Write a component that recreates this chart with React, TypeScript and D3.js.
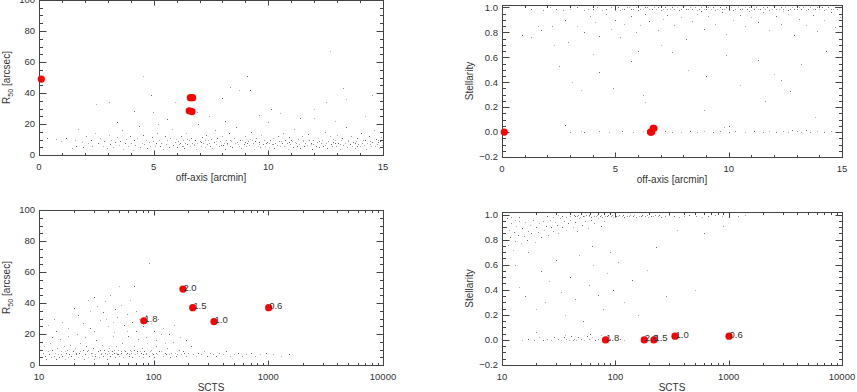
import React from "react";
import * as d3 from "d3";

// axis ticks
const offAxisTicks = [0, 5, 10, 15];
const r50Ticks = [0, 20, 40, 60, 80, 100];
const stellTicks = [-0.2, 0, 0.2, 0.4, 0.6, 0.8, 1.0];
const sctsTicks = [10, 100, 1000, 10000];

// highlighted sources (red)
const srcLabels = ["2.0", "1.5", "1.8", "1.0", "0.6"];
const srcOffAxis = [0.1, 6.6, 6.55, 6.67, 6.7];
const srcR50 = [49, 37, 28.5, 28, 37];
const srcScts = [180, 219, 82, 336, 1007];
const srcStell = [0.0, 0.0, 0.0, 0.03, 0.03];

// catalogue: off-axis vs R50
const offR50 = [
  [0.35,11],[0.72,10.5],[0.95,9],[1.18,11],[1.42,4.5],[1.55,9.5],[1.63,6],[1.71,17],[1.86,8.5],[1.93,5],[2.04,12],[2.12,7.5],[2.27,10],[2.33,5.5],[2.46,14],[2.58,8],[2.64,11],[2.77,6],[2.85,9],[2.96,4.5],
  [3.04,13],[3.08,7],[3.15,10],[3.22,5],[3.31,8.5],[3.38,11.5],[3.47,6.5],[3.52,9],[3.6,16],[3.66,4],[3.74,7.5],[3.81,10.5],[3.88,6],[3.95,12.5],[4.02,8],[4.09,3.5],[4.14,9.5],[4.2,6.5],[4.28,11],[4.35,19],[4.41,5],[4.47,8],[4.53,13],[4.6,7],[4.66,10],[4.71,4.5],[4.79,8.5],[4.86,6],[4.92,11.5],[4.98,9],[5.05,5.5],[5.1,7.5],[5.16,14.5],[5.23,10],[5.29,6],[5.34,8],[5.41,4],[5.48,12],[5.53,7],[5.6,9.5],[5.67,5],[5.72,11],[5.78,17],[5.85,6.5],[5.91,8.5],[5.97,10.5],
  [6.03,5],[6.08,9],[6.12,7],[6.18,12],[6.22,6],[6.27,10],[6.33,4.5],[6.38,8],[6.42,14],[6.47,7],[6.52,9.5],[6.58,5.5],[6.63,11],[6.69,8],[6.74,6.5],[6.8,10],[6.86,4],[6.9,7.5],[6.95,20],[7.01,9],[7.06,6],[7.12,11.5],[7.17,8],[7.22,5],[7.28,13],[7.33,7],[7.39,9.5],[7.44,6],[7.5,10.5],[7.55,4.5],[7.61,8.5],[7.66,16],[7.72,7],[7.77,11],[7.83,5.5],[7.88,9],[7.94,6.5],[7.99,12],[8.05,8],[8.1,4],[8.16,10],[8.21,7],[8.27,14],[8.32,6],[8.38,9],[8.43,5],[8.49,11],[8.54,7.5],[8.6,18],[8.65,8.5],[8.71,6],[8.76,10],[8.82,4.5],[8.87,9.5],[8.93,7],[8.98,12.5],[9.04,5.5],[9.09,8],[9.15,6.5],[9.2,10.5],[9.26,15],[9.31,7.5],[9.37,4],[9.42,9],[9.48,11],[9.53,6],[9.59,8.5],[9.64,5],[9.7,13],[9.75,7],[9.81,10],[9.86,6],[9.92,8],[9.97,21],
  [10.03,5],[10.08,9.5],[10.14,7],[10.19,11],[10.25,4.5],[10.3,8],[10.36,6.5],[10.41,12],[10.47,9],[10.52,5.5],[10.58,7.5],[10.63,14],[10.69,6],[10.74,10],[10.8,8],[10.85,4],[10.91,11.5],[10.96,7],[11.02,9],[11.07,5],[11.13,16.5],[11.18,8.5],[11.24,6],[11.29,10.5],[11.35,7],[11.4,4.5],[11.46,12],[11.51,9],[11.57,5.5],[11.62,8],[11.68,6.5],[11.73,13.5],[11.79,10],[11.84,7],[11.9,4],[11.95,9.5],[12.01,24],[12.06,6],[12.12,8.5],[12.17,11],[12.23,5],[12.28,7.5],[12.34,10],[12.39,6],[12.45,15],[12.5,8],[12.56,4.5],[12.61,9],[12.67,12],[12.72,7],[12.78,5.5],[12.83,10.5],[12.89,8],[12.94,6],[13.0,13],[13.05,7.5],[13.11,4],[13.16,9.5],[13.22,11],[13.27,6.5],[13.33,8],[13.38,18],[13.44,5],[13.49,10],[13.55,7],[13.6,12.5],[13.66,6],[13.71,8.5],[13.77,4.5],[13.82,9],[13.88,11],[13.93,7],[13.99,5.5],[14.04,14],[14.1,8],[14.15,6.5],[14.21,10],[14.26,4],[14.32,7.5],[14.37,12],[14.43,9],[14.48,5.5],[14.54,8.5],[14.59,16],[14.65,6],[14.7,10.5],[14.76,7],[14.81,4.5],[14.87,9],[14.92,11.5],[14.97,6.5],
  [6.15,8],[6.45,10.5],[6.77,7],[7.08,8.5],[7.41,7.5],[7.7,9],[8.02,6.5],[8.35,10],[8.66,7],[8.97,8.5],[9.29,9.5],[9.61,7],[9.94,8.5],[10.22,7],[10.55,9],[10.88,8.5],[11.21,7.5],[11.53,10],[11.86,8],[12.19,9],[12.48,6.5],[12.8,8.5],[13.13,7],[13.46,9],[13.79,8],[14.12,9.5],[14.45,7],[14.78,8.5],[6.3,6],[7.25,9.5],[8.18,8],[9.1,9],[10.05,7.5],[11.0,10],[11.95,7],[12.9,9.5],[13.85,6],[14.8,10],
  [4.55,51],[4.9,39],[3.07,34],[2.5,33],[4.14,28.5],[4.95,28],[5.93,34],[5.6,23],[7.4,25],[12.7,67],[9.06,51],[8.33,44],[8.7,42],[9.2,42],[13.24,43],[13.4,36],[7.97,37],[12.5,34],[12.0,30],[10.1,30],[14.5,39],[14.2,25],[3.4,21],[6.9,28],[10.5,27],[11.4,24],[9.6,26],[12.9,22],[8.1,22],[5.2,20]
];

// catalogue: off-axis vs stellarity
const offStell = [
  [1.3,0.99],[1.8,0.98],[2.1,1.0],[2.4,0.99],[2.7,0.98],[3.0,0.99],[3.3,1.0],[3.6,0.98],[3.8,0.99],[4.0,0.99],[4.2,1.0],[4.4,0.98],[4.6,0.99],[4.8,1.0],[5.0,0.99],[5.1,1.0],[5.2,0.98],[5.3,0.99],[5.4,0.99],[5.5,1.0],[5.6,1.0],[5.7,0.99],[5.8,0.99],[5.9,1.0],[6.0,0.98],[6.1,0.99],[6.2,0.99],[6.3,1.0],[6.4,1.0],[6.5,0.99],[6.6,0.99],[6.7,1.0],[6.8,0.99],[6.9,1.0],[7.0,0.98],[7.1,0.99],[7.2,1.0],[7.3,0.99],[7.4,0.99],[7.5,1.0],[7.6,0.99],[7.7,1.0],[7.8,0.98],[7.9,0.99],[8.0,1.0],[8.1,0.99],[8.2,0.99],[8.3,1.0],[8.4,0.99],[8.5,1.0],[8.6,0.98],[8.7,0.99],[8.8,1.0],[8.9,0.99],[9.0,0.99],[9.1,1.0],[9.2,0.99],[9.3,1.0],[9.4,0.98],[9.5,0.99],[9.6,1.0],[9.7,0.99],[9.8,0.99],[9.9,1.0],[10.0,0.99],[10.1,1.0],[10.2,0.98],[10.3,0.99],[10.4,1.0],[10.5,0.99],[10.6,0.99],[10.7,1.0],[10.8,0.99],[10.9,1.0],[11.0,0.98],[11.1,0.99],[11.2,1.0],[11.3,0.99],[11.4,0.99],[11.5,1.0],[11.6,0.99],[11.7,1.0],[11.8,0.98],[11.9,0.99],[12.0,1.0],[12.1,0.99],[12.2,0.99],[12.3,1.0],[12.4,0.99],[12.5,1.0],[12.6,0.98],[12.7,0.99],[12.8,1.0],[12.9,0.99],[13.0,0.99],[13.1,1.0],[13.2,0.99],[13.3,1.0],[13.4,0.98],[13.5,0.99],[13.6,1.0],[13.7,0.99],[13.8,0.99],[13.9,1.0],[14.0,0.99],[14.1,1.0],[14.2,0.98],[14.3,0.99],[14.4,1.0],[14.5,0.99],[14.6,0.99],[14.7,1.0],[14.8,0.99],[14.9,1.0],
  [0.9,0.78],[1.3,0.76],[1.6,0.85],[1.7,0.82],[2.2,0.85],[2.3,0.7],[2.8,0.9],[2.9,0.72],[3.3,0.85],[3.6,0.8],[3.9,0.93],[4.1,0.88],[4.3,0.77],[4.6,0.95],[4.8,0.83],[5.0,0.9],[5.2,0.76],[5.4,0.87],[5.7,0.93],[5.9,0.8],[6.1,0.86],[6.3,0.95],[6.9,0.82],[7.1,0.91],[7.3,0.94],[7.6,0.86],[7.9,0.92],[8.1,0.75],[8.4,0.89],[8.6,0.95],[8.9,0.83],[9.1,0.93],[9.4,0.87],[9.7,0.96],[9.9,0.79],[10.2,0.9],[10.5,0.94],[10.7,0.85],[11.0,0.92],[11.3,0.88],[11.5,0.96],[11.8,0.82],[12.1,0.93],[12.3,0.87],[12.6,0.95],[12.9,0.78],[13.1,0.91],[13.4,0.86],[13.7,0.94],[13.9,0.81],[14.2,0.9],[14.5,0.96],[14.7,0.84],[14.9,0.92],[6.5,0.89],[10.9,0.97],[12.4,0.97],[8.8,0.97],
  [2.5,0.53],[3.1,0.4],[4.3,0.48],[4.9,0.35],[4.0,0.63],[5.7,0.57],[6.2,0.3],[6.3,0.24],[6.0,0.65],[7.5,0.64],[8.2,0.5],[9.0,0.45],[9.9,0.62],[10.5,0.38],[11.3,0.58],[11.6,0.25],[12.0,0.47],[12.7,0.33],[13.2,0.55],[13.8,0.12],[14.3,0.65],[8.9,0.18],[7.0,0.7],[10.0,0.05],[12.3,0.42],[3.5,0.34],
  [2.8,0.06],[3.0,0.0],[3.5,0.01],[3.6,0.0],[4.3,0.01],[4.7,0.0],[5.3,0.01],[5.8,0.0],[6.2,0.01],[7.2,0.01],[7.5,0.0],[7.9,0.0],[8.3,0.01],[8.6,0.0],[8.9,0.01],[9.3,0.0],[9.6,0.01],[9.8,0.04],[10.0,0.0],[10.3,0.01],[10.7,0.0],[11.1,0.01],[11.5,0.0],[11.8,0.01],[12.1,0.0],[12.4,0.01],[12.6,0.0],[12.8,0.02],[13.0,0.01],[13.2,0.0],[13.4,0.02],[13.6,0.0],[13.9,0.01],[14.2,0.0],[14.5,0.01],[14.8,0.0]
];

// catalogue: SCTS vs R50
const sctsR50 = [
  [10.5,5],[10.8,8],[11,12],[11.3,6],[11.6,4],[11.9,9],[12.2,7],[12.5,14],[12.8,5],[13.1,10],[13.4,6],[13.7,8],[14,4],[14.3,11],[14.6,7],[15,5],[15.3,17],[15.7,9],[16,6],[16.4,12],[16.8,4],[17.2,8],[17.6,10],[18,5],[18.4,7],[18.8,13],[19.2,6],[19.7,9],[20.1,4],[20.6,11],[21,7],[21.5,20],[22,5],[22.5,8],[23,14],[23.5,6],[24,10],[24.6,4],[25.2,7],[25.8,12],[26.4,9],[27,5],[27.6,24],[28.2,8],[28.9,6],[29.6,11],[30.3,4],[31,7],[31.7,16],[32.4,9],[33.2,5],[34,10],[34.8,7],[35.6,13],[36.4,6],[37.3,8],[38.2,30],[39.1,4],[40,9],[41,11],[42,6],[43,7],[44,19],[45,8],[46,5],[47,12],[48,7],[49,10],[50,6],[51.5,8],[53,14],[54.5,5],[56,9],[57.5,7],[59,22],[60.5,6],[62,10],[63.5,8],[65,5],[67,12],[69,7],[71,9],[73,17],[75,6],[77,8],[79,11],[81,5],[83,9],[85,7],[88,14],[91,6],[94,10],[97,8],[100,5],[104,12],[108,7],[112,9],[116,20],[120,6],[125,8],[130,11],[135,7],[140,5],[146,15],[152,8],[158,6],[165,10],[172,7],[180,9],[190,6],[200,8],[210,12],[220,7],[232,6],[245,8],[260,7],[275,9],[290,6],[310,8],[330,7],[350,6],[375,8],[400,7],[430,9],[460,6],[500,7],[540,8],[590,6],[640,7],[700,8],[770,6],[850,7],[950,8],[1100,7],[1300,6],[1500,7],
  [15.5,7],[17,9],[19,6],[21,8],[23,9],[25,7],[27,10],[29,8],[31,6],[33,9],[35,8],[37,10],[39,7],[41,8],[43,9],[45,10],[47,8],[49,7],[52,9],[55,10],[58,8],[61,7],[64,9],[68,10],[72,8],[76,9],[80,7],[86,8],[92,9],[98,7],[105,8],[115,9],[128,7],[142,8],[160,7],[185,8],
  [91,66],[50,51],[67,51],[38,41],[26.6,42],[20,37],[13.4,30],[12,26],[14,22],[16,28],[18,24],[22,32],[24,27],[28,35],[30,44],[32,38],[34,29],[36,34],[42,45],[44,28],[46,36],[48,31],[52,39],[55,26],[58,33],[62,42],[65,28],[70,35],[75,30],[80,25],[85,32],[95,27],[100,22],[110,30],[120,24],[135,20],[150,26],[170,18],[190,16],[30,22],[40,25],[60,19],[85,18],[18,19],[13,18],[25,18],[45,21],[70,22],[105,16],[125,14]
];

// catalogue: SCTS vs stellarity
const sctsStell = [
  [25,0.99],[28,0.98],[31,1.0],[34,0.99],[37,0.98],[40,0.99],[43,1.0],[46,0.99],[49,0.98],[52,0.99],[55,1.0],[58,0.99],[61,0.98],[65,0.99],[69,1.0],[73,0.99],[77,0.98],[81,0.99],[86,1.0],[91,0.99],[96,0.98],[102,0.99],[108,1.0],[114,0.99],[120,0.98],[127,0.99],[135,1.0],[143,0.99],[152,0.98],[162,0.99],[172,1.0],[183,0.99],[195,0.98],[208,0.99],[222,1.0],[238,0.99],[255,0.98],[275,0.99],[300,1.0],[330,0.99],[365,0.98],[400,0.99],[450,1.0],[510,0.99],[580,0.98],[660,0.99],[760,1.0],[880,0.99],[1000,0.98],[1200,0.99],[1400,1.0],
  [44,0.99],[47,1.0],[53,0.99],[59,1.0],[67,0.99],[75,1.0],[84,0.99],[94,1.0],[105,0.99],[117,1.0],[131,0.99],[147,1.0],[167,0.99],[190,1.0],[215,0.99],[245,1.0],
  [10.3,0.85],[10.6,0.8],[10.9,0.9],[11.2,0.76],[11.5,0.88],[11.8,0.82],[12.1,0.93],[12.4,0.72],[12.7,0.86],[13,0.79],[13.4,0.91],[13.8,0.84],[14.2,0.95],[14.6,0.77],[15,0.89],[15.5,0.83],[16,0.94],[16.5,0.8],[17,0.87],[17.6,0.92],[18.2,0.85],[18.8,0.96],[19.4,0.78],[20,0.9],[20.7,0.86],[21.4,0.93],[22.1,0.82],[22.9,0.95],[23.7,0.88],[24.5,0.91],[25.4,0.84],[26.3,0.96],[27.2,0.9],[28.2,0.87],[29.2,0.94],[30.3,0.92],[31.4,0.85],[32.6,0.97],[33.8,0.9],[35,0.95],[36.5,0.88],[38,0.93],[40,0.96],[42,0.9],[44,0.94],[46,0.87],[48,0.97],[51,0.92],[54,0.95],[57,0.89],[61,0.96],[65,0.93],[70,0.97],[75,0.91],[80,0.95],[10.4,0.95],[11,0.97],[12,0.98],[13,0.96],[14,0.98],
  [13,0.6],[14,0.42],[16,0.35],[17,0.7],[20,0.25],[22,0.55],[24,0.3],[26,0.47],[30,0.64],[33,0.38],[36,0.2],[40,0.5],[44,0.33],[48,0.68],[52,0.15],[58,0.44],[63,0.6],[70,0.36],[78,0.25],[85,0.53],[95,0.4],[105,0.62],[120,0.3],[140,0.48],[160,0.2],[190,0.56],[230,0.74],[280,0.35],[350,0.88],[600,0.85],[900,0.91],[500,0.4],[62,0.75],[90,0.7],
  [15,0.0],[17,0.01],[19,0.0],[21,0.02],[23,0.0],[25,0.01],[27,0.0],[29,0.02],[31,0.01],[33,0.0],[35,0.02],[37,0.01],[39,0.0],[41,0.03],[43,0.01],[45,0.0],[47,0.02],[50,0.01],[53,0.0],[56,0.03],[59,0.01],[62,0.02],[66,0.0],[70,0.01],[75,0.04],[80,0.02],[90,0.01],[100,0.0],[110,0.01],[20,0.06],[36,0.04],[60,0.05],[42,0.0],[120,0.0]
];

const FONT = "'Liberation Sans', Arial, Helvetica, sans-serif";
const AXIS = "#444";

function linMinor(lo: number, hi: number, step: number) {
  const n = Math.round((hi - lo) / step);
  return d3.range(n + 1).map((i) => lo + i * step);
}
function logMinor(lo: number, hi: number) {
  const out: number[] = [];
  for (let d = lo; d < hi; d *= 10) for (let k = 2; k < 10; k++) out.push(d * k);
  return out;
}

function Panel(props: any) {
  const { x, y, majorX, minorX, majorY, minorY, fmtX, fmtY, pts, red, labels, xTitle, yTitle, id } = props;
  const [x0, x1] = x.range();
  const [y0, y1] = y.range(); // y0 bottom, y1 top
  const left = Math.round(x0) + 0.5, right = Math.round(x1) + 0.5;
  const bot = Math.round(y0) + 0.5, top = Math.round(y1) + 0.5;
  const ticks: JSX.Element[] = [];
  majorX.forEach((v: number, i: number) => {
    const px = Math.round(x(v)) + 0.5;
    ticks.push(<line key={"mx" + i} x1={px} x2={px} y1={bot} y2={bot - 5} />);
    ticks.push(<line key={"mxt" + i} x1={px} x2={px} y1={top} y2={top + 5} />);
  });
  minorX.forEach((v: number, i: number) => {
    const px = Math.round(x(v)) + 0.5;
    ticks.push(<line key={"nx" + i} x1={px} x2={px} y1={bot} y2={bot - 2.5} />);
    ticks.push(<line key={"nxt" + i} x1={px} x2={px} y1={top} y2={top + 2.5} />);
  });
  majorY.forEach((v: number, i: number) => {
    const py = Math.round(y(v)) + 0.5;
    ticks.push(<line key={"my" + i} x1={left} x2={left + 7} y1={py} y2={py} />);
    ticks.push(<line key={"myr" + i} x1={right} x2={right - 7} y1={py} y2={py} />);
  });
  minorY.forEach((v: number, i: number) => {
    const py = Math.round(y(v)) + 0.5;
    ticks.push(<line key={"ny" + i} x1={left} x2={left + 3.5} y1={py} y2={py} />);
    ticks.push(<line key={"nyr" + i} x1={right} x2={right - 3.5} y1={py} y2={py} />);
  });
  const cx = (x0 + x1) / 2;
  const cy = (y0 + y1) / 2;
  return (
    <g fontFamily={FONT}>
      <defs>
        <clipPath id={id}>
          <rect x={x0} y={y1} width={x1 - x0 + 1} height={y0 - y1 + 1} />
        </clipPath>
      </defs>
      <g clipPath={`url(#${id})`}>
        {pts.map((d: number[], i: number) => (
          <rect key={i} x={Math.round(x(d[0]))} y={Math.round(y(d[1]))} width={1} height={1}
            fill="#444" opacity={i % 3 === 0 ? 0.8 : i % 3 === 1 ? 0.55 : 0.4} />
        ))}
      </g>
      <g stroke={AXIS} strokeWidth={1}>
        {ticks}
        <rect x={left} y={top} width={right - left} height={bot - top} fill="none" />
      </g>
      <g fill="#333" fontSize={9.5}>
        {majorX.map((v: number, i: number) => (
          <text key={i} x={x(v)} y={y0 + 15} textAnchor="middle">{fmtX(v)}</text>
        ))}
        {majorY.map((v: number, i: number) => (
          <text key={i} x={x0 - 4} y={y(v)} dy="0.35em" textAnchor="end">{fmtY(v)}</text>
        ))}
        <text x={cx} y={y0 + 26} textAnchor="middle" fontSize={10}>{xTitle}</text>
        <text transform={`translate(${x0 - 29},${cy}) rotate(-90)`} textAnchor="middle" fontSize={10}>{yTitle}</text>
      </g>
      <g>
        {red.map((d: number[], i: number) => (
          <circle key={i} cx={x(d[0])} cy={y(d[1])} r={3.6} fill="#ff0000" />
        ))}
      </g>
      {labels && (
        <g fill="#333" fontSize={9.5}>
          {red.map((d: number[], i: number) => (
            <text key={i} x={x(d[0]) + 0.5} y={y(d[1]) + 1.5}>{labels[i]}</text>
          ))}
        </g>
      )}
    </g>
  );
}

export default function App() {
  const xOffL = d3.scaleLinear().domain([0, 15]).range([39, 383]);
  const xOffR = d3.scaleLinear().domain([0, 15]).range([502, 842]);
  const xLogL = d3.scaleLog().domain([10, 10000]).range([39, 383]);
  const xLogR = d3.scaleLog().domain([10, 10000]).range([502, 842]);
  const yR50T = d3.scaleLinear().domain([0, 100]).range([155, 0]);
  const yStT = d3.scaleLinear().domain([-0.2, 1.02]).range([157, 5]);
  const yR50B = d3.scaleLinear().domain([0, 100]).range([365, 210]);
  const yStB = d3.scaleLinear().domain([-0.2, 1.02]).range([365, 212]);

  const fmtInt = (v: number) => String(v);
  const fmt1 = d3.format(".1f");

  const offMinor = linMinor(0, 15, 1);
  const r50Minor = linMinor(0, 100, 5);
  const stMinor = linMinor(-0.2, 1.0, 0.05);
  const logMin = logMinor(10, 10000);

  const r50Title = (
    <>
      R<tspan fontSize={7} dy={3}>50</tspan>
      <tspan dy={-3}> [arcsec]</tspan>
    </>
  );

  const redOffR50 = srcOffAxis.map((v, i) => [v, srcR50[i]]);
  const redOffSt = srcOffAxis.map((v, i) => [v, srcStell[i]]);
  const redScR50 = srcScts.map((v, i) => [v, srcR50[i]]);
  const redScSt = srcScts.map((v, i) => [v, srcStell[i]]);

  return (
    <svg width={857} height={392} style={{ position: "absolute", left: 0, top: 0, background: "#fff" }}>
      <rect width={857} height={392} fill="#fff" />
      <Panel id="c1" x={xOffL} y={yR50T} majorX={offAxisTicks} minorX={offMinor} majorY={r50Ticks} minorY={r50Minor}
        fmtX={fmtInt} fmtY={fmtInt} pts={offR50} red={redOffR50} xTitle="off-axis [arcmin]" yTitle={r50Title} />
      <Panel id="c2" x={xOffR} y={yStT} majorX={offAxisTicks} minorX={offMinor} majorY={stellTicks} minorY={stMinor}
        fmtX={fmtInt} fmtY={fmt1} pts={offStell} red={redOffSt} xTitle="off-axis [arcmin]" yTitle="Stellarity" />
      <Panel id="c3" x={xLogL} y={yR50B} majorX={sctsTicks} minorX={logMin} majorY={r50Ticks} minorY={r50Minor}
        fmtX={fmtInt} fmtY={fmtInt} pts={sctsR50} red={redScR50} labels={srcLabels} xTitle="SCTS" yTitle={r50Title} />
      <Panel id="c4" x={xLogR} y={yStB} majorX={sctsTicks} minorX={logMin} majorY={stellTicks} minorY={stMinor}
        fmtX={fmtInt} fmtY={fmt1} pts={sctsStell} red={redScSt} labels={srcLabels} xTitle="SCTS" yTitle="Stellarity" />
    </svg>
  );
}
